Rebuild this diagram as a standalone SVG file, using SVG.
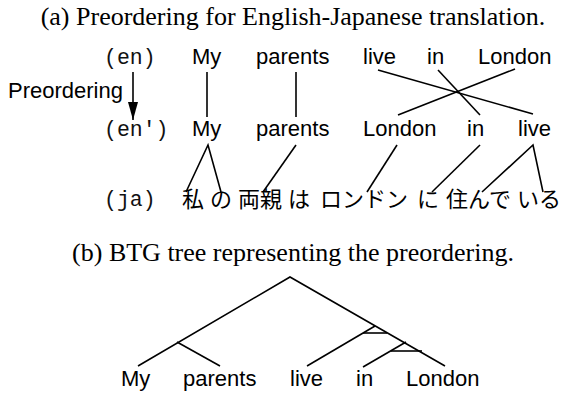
<svg xmlns="http://www.w3.org/2000/svg" width="563" height="394" viewBox="0 0 563 394">
<style>
.title{font-family:"Liberation Serif","Times New Roman",serif;font-size:26px;fill:#000}
.w{font-family:"Liberation Sans",Arial,sans-serif;font-size:22px;fill:#000}
.m{font-family:"Liberation Mono","Courier New",monospace;font-size:21.5px;fill:#111}
.ja{font-family:"Noto Sans CJK JP","Noto Sans CJK SC",sans-serif;font-size:22px;fill:#000}
.c line, .c polyline{stroke:#000;stroke-width:1.6;fill:none}
</style>
<defs>
<marker id="ah" markerWidth="18" markerHeight="10" refX="18" refY="5" orient="auto" markerUnits="userSpaceOnUse" viewBox="0 0 18 10">
<path d="M0,0 L18,5 L0,10 Z" fill="#000"/>
</marker>
</defs>
<rect width="563" height="394" fill="#fff"/>
<text class="title" x="293" y="25" text-anchor="middle">(a) Preordering for English-Japanese translation.</text>
<text class="title" x="293" y="261" text-anchor="middle">(b) BTG tree representing the preordering.</text>

<g id="label-en"><text class="m" x="104" y="64">(en)</text></g>
<g id="label-enp"><text class="m" x="104" y="136">(en')</text></g>
<g id="label-ja"><text class="m" x="104" y="206">(ja)</text></g>
<g id="label-preordering"><text class="w" x="8" y="98">Preordering</text></g>

<g id="en-My"><text class="w" x="192" y="64">My</text></g>
<g id="en-parents"><text class="w" x="256" y="64">parents</text></g>
<g id="en-live"><text class="w" x="363" y="64">live</text></g>
<g id="en-in"><text class="w" x="427" y="64">in</text></g>
<g id="en-London"><text class="w" x="478" y="64">London</text></g>

<g id="enp-My"><text class="w" x="192" y="136">My</text></g>
<g id="enp-parents"><text class="w" x="256" y="136">parents</text></g>
<g id="enp-London"><text class="w" x="363" y="136">London</text></g>
<g id="enp-in"><text class="w" x="467" y="136">in</text></g>
<g id="enp-live"><text class="w" x="518" y="136">live</text></g>

<g id="ja-watashi"><text class="ja" x="182" y="207">私</text></g>
<g id="ja-no"><text class="ja" x="210" y="207">の</text></g>
<g id="ja-ryoushin"><text class="ja" x="238" y="207">両親</text></g>
<g id="ja-wa"><text class="ja" x="288" y="207">は</text></g>
<g id="ja-london"><text class="ja" x="320" y="207">ロンドン</text></g>
<g id="ja-ni"><text class="ja" x="417" y="207">に</text></g>
<g id="ja-sunde"><text class="ja" x="446" y="207">住んで</text></g>
<g id="ja-iru"><text class="ja" x="517" y="207">いる</text></g>

<g id="tree-My"><text class="w" x="121" y="386">My</text></g>
<g id="tree-parents"><text class="w" x="183" y="386">parents</text></g>
<g id="tree-live"><text class="w" x="290" y="386">live</text></g>
<g id="tree-in"><text class="w" x="356" y="386">in</text></g>
<g id="tree-London"><text class="w" x="406" y="386">London</text></g>

<g id="connectors" class="c">
<line x1="133" y1="72" x2="133" y2="120" marker-end="url(#ah)"/>
<line x1="207" y1="72" x2="207" y2="117"/>
<line x1="296" y1="72" x2="296" y2="117"/>
<line x1="378" y1="70" x2="533" y2="114"/>
<line x1="438" y1="70" x2="480" y2="115"/>
<line x1="515" y1="69" x2="398" y2="115"/>

<polyline points="186,192 208,145 221,192"/>
<line x1="296" y1="145" x2="263" y2="192"/>
<line x1="397" y1="145" x2="367" y2="192"/>
<line x1="480" y1="145" x2="432" y2="192"/>
<polyline points="482,192 533,145 543,192"/>

<polyline points="138,366 290,277 445,366"/>
<line x1="177" y1="342" x2="220" y2="366"/>
<line x1="307" y1="366" x2="375" y2="326"/>
<line x1="363" y1="333" x2="387" y2="333"/>
<line x1="363" y1="367" x2="406" y2="342"/>
<line x1="391" y1="351" x2="422" y2="351"/>
</g>
</svg>
